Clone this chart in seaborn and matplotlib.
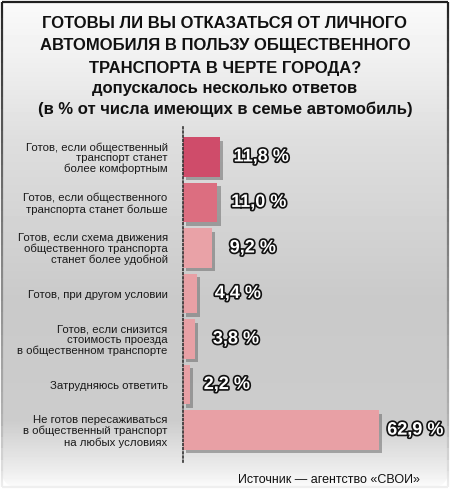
import numpy as np
import matplotlib
matplotlib.use("Agg")
import matplotlib.pyplot as plt
import matplotlib.patheffects as pe
from matplotlib.patches import FancyBboxPatch
from matplotlib.collections import LineCollection
import seaborn as sns

# ── Data ────────────────────────────────────────────────────────────────────
categories = [
    "Готов, если общественный\nтранспорт станет\nболее комфортным",
    "Готов, если общественного\nтранспорта станет больше",
    "Готов, если схема движения\nобщественного транспорта\nстанет более удобной",
    "Готов, при другом условии",
    "Готов, если снизится\nстоимость проезда\nв общественном транспорте",
    "Затрудняюсь ответить",
    "Не готов пересаживаться\nв общественный транспорт\nна любых условиях",
]
values = [11.8, 11.0, 9.2, 4.4, 3.8, 2.2, 62.9]
value_labels = ["11,8 %", "11,0 %", "9,2 %", "4,4 %", "3,8 %", "2,2 %", "62,9 %"]
bar_colors = ["#cf4c6a", "#dc6e80", "#e9a2a7", "#e8a0a5", "#e8a0a5", "#e8a0a5", "#e8a0a5"]
label_offsets = [10, 10, 13, 13, 13, 10, 6]  # points

title_lines = [
    "ГОТОВЫ ЛИ ВЫ ОТКАЗАТЬСЯ ОТ ЛИЧНОГО",
    "АВТОМОБИЛЯ В ПОЛЬЗУ ОБЩЕСТВЕННОГО",
    "ТРАНСПОРТА В ЧЕРТЕ ГОРОДА?",
]
subtitle_lines = [
    "допускалось несколько ответов",
    "(в % от числа имеющих в семье автомобиль)",
]
source = "Источник — агентство «СВОИ»"

W, H = 450, 491
plt.rcParams["font.family"] = ["Liberation Sans", "DejaVu Sans"]

fig = plt.figure(figsize=(W / 100, H / 100), dpi=100)
fig.patch.set_facecolor("white")

def fx(px):
    return px / W

def fy(py):
    return 1 - py / H

# ── Background panel with vertical gradient ─────────────────────────────────
bg = fig.add_axes([0, 0, 1, 1])
bg.set_xlim(0, W)
bg.set_ylim(H, 0)
bg.axis("off")
ys = np.arange(H)
stops_y = [0, 60, 140, 300, 420, 470, 491]
stops_v = [0.98, 0.94, 0.87, 0.79, 0.80, 0.93, 1.0]
grad = np.interp(ys, stops_y, stops_v)
img = np.repeat(grad[:, None], 2, axis=1)
im = bg.imshow(img, cmap="gray", vmin=0, vmax=1, extent=[0, W, H, 0], aspect="auto")
box = FancyBboxPatch((2, 2), W - 4, H - 6, boxstyle="round,pad=0,rounding_size=16",
                     facecolor="none", edgecolor="none")
bg.add_patch(box)
im.set_clip_path(box)

# border fading from dark at the top to light at the bottom
verts = box.get_path().interpolated(40).vertices
verts = box.get_transform().transform(verts)
verts = bg.transData.inverted().transform(verts)
segs = np.stack([verts[:-1], verts[1:]], axis=1)
ymid = segs[:, :, 1].mean(axis=1)
shade = np.interp(ymid, [0, 30, 200, 420, 491], [0.12, 0.2, 0.45, 0.7, 0.95])
lc = LineCollection(segs, colors=[(s, s, s) for s in shade], linewidths=1.6)
bg.add_collection(lc)

# ── Titles ──────────────────────────────────────────────────────────────────
for i, line in enumerate(title_lines):
    fig.text(fx(225), fy(23 + 22.5 * i), line, ha="center", va="center",
             fontsize=12, fontweight="bold", color="#111111")
for i, line in enumerate(subtitle_lines):
    fig.text(fx(225), fy(88 + 21 * i), line, ha="center", va="center",
             fontsize=12, fontweight="bold", color="#111111")

# ── Bars ────────────────────────────────────────────────────────────────────
ax = fig.add_axes([fx(183), fy(462), fx(218), (462 - 125) / H])
ax.patch.set_alpha(0)
sns.barplot(x=values, y=categories, hue=categories, palette=bar_colors,
            legend=False, width=0.87, orient="h", ax=ax, saturation=1)
ax.set_xlim(0, 70)
ax.set_ylim(6.7, -0.7)
ax.set_xlabel("")
ax.set_ylabel("")
ax.set_xticks([])
ax.tick_params(axis="y", length=0, pad=11, labelsize=8.2, labelcolor="#1a1a1a")
for lbl in ax.get_yticklabels():
    lbl.set_linespacing(1.08)
for side in ["top", "right", "bottom"]:
    ax.spines[side].set_visible(False)
ax.spines["left"].set_linestyle((0, (1, 1.5)))
ax.spines["left"].set_color("#333333")
ax.spines["left"].set_linewidth(1.2)

for bar in ax.patches:
    bar.set_path_effects([pe.SimplePatchShadow(offset=(2.5, -2.5), shadow_rgbFace="#555555", alpha=0.45),
                          pe.Normal()])

for i, (v, txt) in enumerate(zip(values, value_labels)):
    ax.annotate(txt, xy=(v, i), xytext=(label_offsets[i], 0), textcoords="offset points",
                ha="left", va="center", fontsize=13, fontweight="bold", color="white",
                path_effects=[pe.withStroke(linewidth=2.4, foreground="#111111")])

fig.text(fx(420), fy(480), source, ha="right", va="center", fontsize=9, color="#111111")

fig.savefig("out.png", dpi=100)
